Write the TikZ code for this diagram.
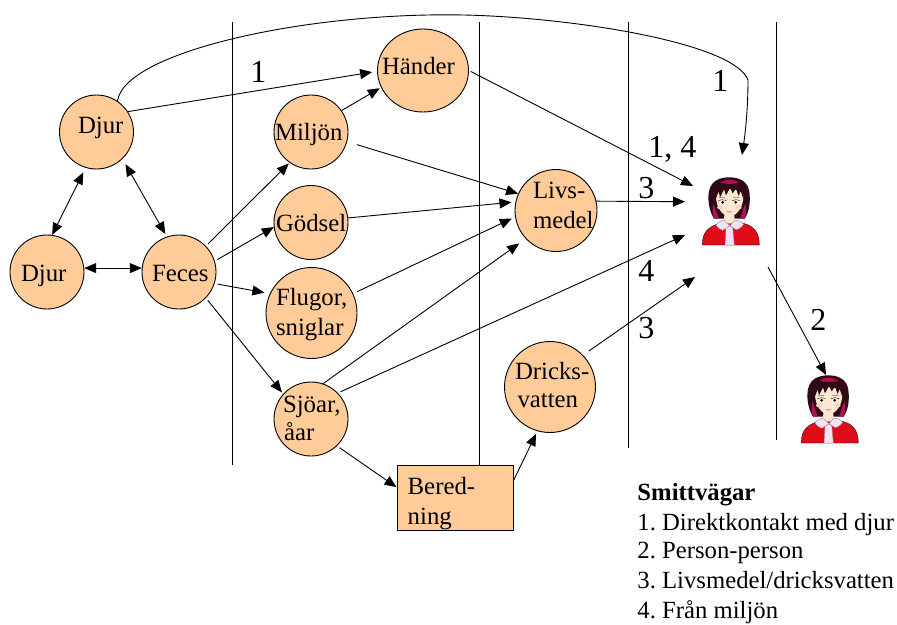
\documentclass[tikz,border=0pt]{standalone}
\usepackage{fontspec}
\setmainfont{Liberation Serif}
\usetikzlibrary{arrows.meta,shapes.geometric}
\definecolor{nodefill}{HTML}{FFCC99}
\definecolor{hairc}{HTML}{2E0A14}
\definecolor{hairm}{HTML}{B01058}
\definecolor{skinc}{HTML}{FCE8D0}
\definecolor{redc}{HTML}{E00C18}
\definecolor{collarc}{HTML}{F6E2F6}
\newcommand\tl[3]{\rlap{\hspace*{#1pt}\smash{\raisebox{-#2pt}{#3}}}}
\tikzset{
  x=1pt,y=-1pt,
  every path/.style={line width=0.9pt},
  base/.style={draw=black,fill=nodefill,inner sep=0pt,font=\fontsize{24.8}{29}\selectfont},
  small/.style={base,circle,minimum size=74pt},
  big/.style={base,circle,minimum size=91pt},
  mid/.style={base,circle,minimum size=82pt},
  arr/.style={-{Triangle[length=12pt,width=10pt]}},
  dbl/.style={{Triangle[length=12pt,width=10pt]}-{Triangle[length=12pt,width=10pt]}},
  num/.style={inner sep=0pt,anchor=base west,font=\fontsize{32}{34}\selectfont},
  leg/.style={inner sep=0pt,anchor=base west,font=\fontsize{24.7}{29}\selectfont\frenchspacing},
  divider/.style={draw=black},
  person/.pic={
    \begin{scope}[scale=1/3,every path/.style={line width=0.4pt}]
      \fill[hairc] (102,176) .. controls (85,150) and (82,110) .. (88,90) .. controls (95,62) and (120,52) .. (148,52) .. controls (180,52) and (203,65) .. (208,95) .. controls (212,125) and (208,155) .. (194,176) -- cycle;
      \fill[hairm] (102,176) .. controls (97,160) and (97,145) .. (100,130) -- (116,176) -- cycle;
      \fill[hairm] (194,176) .. controls (199,160) and (199,145) .. (196,130) -- (180,176) -- cycle;
      \fill[redc,draw=hairc] (67,255) .. controls (67,222) and (78,205) .. (112,192) -- (190,190) .. controls (225,198) and (238,222) .. (238,255) -- cycle;
      \fill[skinc] (134,160) -- (162,160) -- (165,190) -- (130,190) -- cycle;
      \fill[skinc] (108,108) .. controls (108,145) and (130,169) .. (148,169) .. controls (168,169) and (190,145) .. (190,108) .. controls (190,80) and (108,80) .. (108,108) -- cycle;
      \fill[hairc] (107,118) -- (104,82) .. controls (125,62) and (170,62) .. (192,82) -- (190,118) -- (182,92) -- (176,108) -- (168,86) -- (158,100) -- (150,84) -- (138,106) -- (132,88) -- (120,112) -- (116,94) -- cycle;
      \fill[hairm] (122,68) .. controls (138,56) and (160,56) .. (178,68) .. controls (160,73) and (138,73) .. (122,68) -- cycle;
      \fill[pink!60!skinc] (120,142) ellipse (9 and 6);
      \fill[pink!60!skinc] (176,142) ellipse (9 and 6);
      \fill[white] (127,127) ellipse (10 and 5.5);
      \fill[white] (168,127) ellipse (10 and 5.5);
      \fill[black] (128,127) circle (4.6);
      \fill[black] (167,127) circle (4.6);
      \draw[hairc] (115,122) .. controls (122,118) and (132,118) .. (139,122);
      \draw[hairc] (156,122) .. controls (163,118) and (173,118) .. (180,122);
      \draw[hairc!70] (117,113) -- (135,112);
      \draw[hairc!70] (160,112) -- (178,113);
      \fill[hairm!50!skinc] (138,154) -- (158,154) -- (148,158) -- cycle;
      \fill[collarc,draw=hairc!50] (138,203) -- (148,197) -- (158,203) -- (163,255) -- (135,255) -- cycle;
      \fill[collarc,draw=hairc!50] (108,196) .. controls (112,188) and (122,182) .. (132,180) -- (150,197) -- (128,211) .. controls (120,208) and (112,203) .. (108,196) -- cycle;
      \fill[collarc,draw=hairc!50] (150,197) -- (165,180) .. controls (175,180) and (185,184) .. (191,193) .. controls (185,203) and (175,208) .. (168,209) -- cycle;
    \end{scope}
  }
}
\begin{document}
\begin{tikzpicture}
\useasboundingbox (0,0) rectangle (897,624);
% dividers
\draw[divider] (232,22) -- (232,465);
\draw[divider] (628,22) -- (628,448);
\draw[divider] (776,22) -- (776,440);
% nodes
\node[small] (djura) at (96.5,132) {\tl{-18.5}{1}{Djur}};
\node[small] (djurb) at (47,272) {\tl{-26}{9}{Djur}};
\node[small] (feces) at (179,272) {\tl{-27}{9}{Feces}};
\node[base,ellipse,minimum width=91pt,minimum height=83pt] (hander) at (423,70.5) {\tl{-41}{3.8}{Händer}};
\node[small] (miljon) at (311,132) {\tl{-36}{8.5}{Miljön}};
\node[small] (godsel) at (311,222.5) {\tl{-35}{8.5}{Gödsel}};
\node[big] (flugor) at (311.5,313) {\tl{-35.5}{-8}{Flugor,}\tl{-35.5}{22}{sniglar}};
\node[small] (sjoar) at (311,419) {\tl{-28}{-6.3}{Sjöar,}\tl{-27}{21.7}{åar}};
\node[mid] (livs) at (556,210.5) {\tl{-23}{-12.5}{Livs-}\tl{-23}{17.5}{medel}};
\node[big] (dricks) at (550,387) {\tl{-35}{-7.7}{Dricks-}\tl{-32.5}{20.7}{vatten}};
\node[base,rectangle,minimum width=116pt,minimum height=65pt] (bered) at (455,497.5) {\tl{-47.3}{-3.5}{Bered-}\tl{-47.3}{26.5}{ning}};
\coordinate (dtop) at (479,22);
\draw[divider] (dtop) -- (dtop |- bered.north);
% people
\pic at (680,160) {person};
\pic at (779,358) {person};
\coordinate (pa) at (693,186);
\coordinate (pb) at (685,201.7);
\coordinate (pc) at (685,235);
\coordinate (pd) at (695,277);
\coordinate (pe) at (742,155);
\coordinate (pf) at (768,267);
\coordinate (pg) at (826,375);
% connectors
\draw[dbl,shorten <=5pt] (djura.253) -- (djurb.82);
\draw[dbl,shorten <=6pt,shorten >=3pt] (djura.314) -- (feces.109);
\draw[dbl] (djurb.6) -- (feces.174);
\draw[arr,shorten >=5pt] (djura.33) -- (hander.181);
\draw[arr] (djura.56) .. controls (125,50) and (320,9) .. (480,15.5) .. controls (590,20) and (735,45) .. (748,80) .. controls (748,110) and (745,135) .. (pe);
\draw[arr,shorten >=1.5pt] (miljon.35.6) -- (hander.202.8);
\draw[arr,shorten <=2pt] (hander.0) -- (pa);
\draw[arr,shorten <=10pt] (miljon.345) -- (livs.156);
\draw[arr,shorten >=4pt] (godsel.7) -- (livs.168.7);
\draw[arr,shorten <=4.5pt,shorten >=3.6pt] (flugor.25) -- (livs.189.7);
\draw[arr,shorten >=8pt] (sjoar.71.6) -- (livs.223);
\draw[arr,shorten <=3pt] (sjoar.44) -- (pc);
\draw[arr] (livs.13) -- (pb);
\draw[arr,shorten <=7pt] (dricks.44) -- (pd);
\draw[arr,shorten <=3pt,shorten >=1pt] (feces.44) -- (miljon.235);
\draw[arr,shorten <=3pt] (feces.17.5) -- (godsel.187);
\draw[arr,shorten <=3pt,shorten >=5.5pt] (feces.342.5) -- (flugor.155.4);
\draw[arr,shorten <=3pt,shorten >=2pt] (feces.316) -- (sjoar.138);
\draw[arr,shorten <=3pt] (sjoar.314) -- (bered.170.7);
\draw[arr,shorten >=3pt] (bered.16.8) -- (dricks.254);
\draw[arr] (pf) -- (pg);
% labels
\node[num] (la) at (250,82) {1};
\node[num] (lb) at (712,91) {1};
\node[num] (lc) at (648,157) {1, 4};
\node[num] (ld) at (638,198) {3};
\node[num] (le) at (638,281) {4};
\node[num] (lf) at (638,338) {3};
\node[num] (lg) at (810,330) {2};
% legend
\node[leg] (l0) at (637,500) {\textbf{Smittvägar}};
\node[leg] (l1) at (637,530) {1. Direktkontakt med djur};
\node[leg] (l2) at (637,558) {2. Person-person};
\node[leg] (l3) at (637,588) {3. Livsmedel/dricksvatten};
\node[leg] (l4) at (637,618) {4. Från miljön};
\end{tikzpicture}
\end{document}
